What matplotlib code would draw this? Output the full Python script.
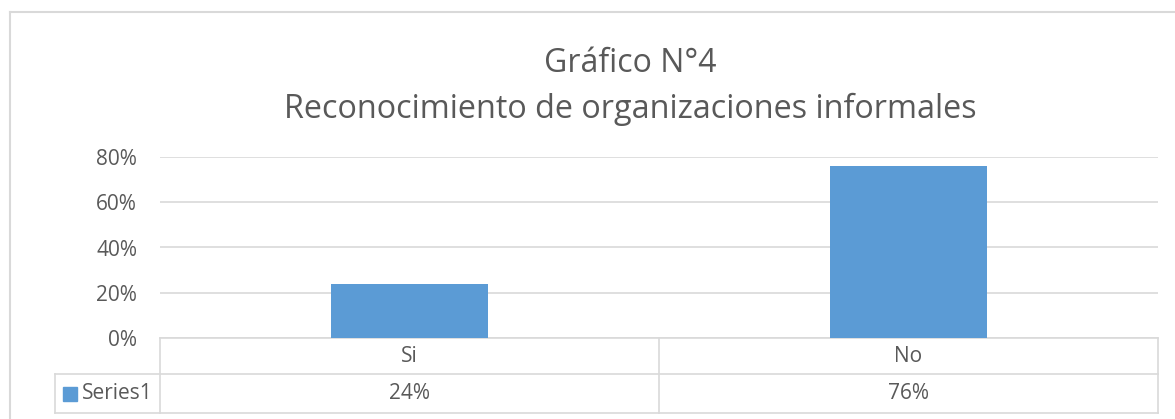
import matplotlib
matplotlib.use("Agg")
import matplotlib.pyplot as plt
from matplotlib.lines import Line2D

categories = ["Si", "No"]
values = [0.24, 0.76]
value_labels = ["24%", "76%"]
yticks = [0.0, 0.2, 0.4, 0.6, 0.8]
ytick_labels = ["0%", "20%", "40%", "60%", "80%"]
series_name = "Series1"
title_lines = ["Gráfico N°4", "Reconocimiento de organizaciones informales"]

plt.rcParams['font.family'] = ['Open Sans', 'DejaVu Sans']
TXT = '#595959'
GRID = '#d9d9d9'
BAR = '#5b9bd5'

W, H = 1175, 419
fig = plt.figure(figsize=(W/100, H/100), dpi=100)
fig.patch.set_facecolor('white')

def fx(px): return px / W
def fy(py): return 1 - py / H

FS = 15
ax = fig.add_axes([fx(160), fy(338), fx(1158) - fx(160), fy(157) - fy(338)])
x = list(range(len(categories)))
ax.bar(x, values, width=0.313, color=BAR, zorder=3)
ax.set_xlim(-0.5, len(categories) - 0.5)
ax.set_ylim(0, 0.8)
ax.set_yticks(yticks)
ax.set_yticklabels(ytick_labels, color=TXT, fontsize=FS)
ax.tick_params(axis='y', length=0, pad=16.5)
ax.set_xticks([])
for s in ['top', 'right', 'left']:
    ax.spines[s].set_visible(False)
ax.spines['bottom'].set_color(GRID)
ax.spines['bottom'].set_linewidth(1.2)
ax.yaxis.grid(True, color=GRID, linewidth=1.2, zorder=0)
ax.set_axisbelow(True)

# data table below axes (axes coordinates)
axh = 181.0
axw = 998.0
r1 = -(374 - 338) / axh
r2 = -(413 - 338) / axh
legx = (55 - 160) / axw
lk = dict(color=GRID, linewidth=1.2, transform=ax.transAxes, clip_on=False)
ax.add_line(Line2D([legx, 1.0], [r1, r1], **lk))
ax.add_line(Line2D([legx, 1.0], [r2, r2], **lk))
ax.add_line(Line2D([legx, legx], [r1, r2], **lk))
ax.add_line(Line2D([0, 0], [0, r2], **lk))
ax.add_line(Line2D([1.0, 1.0], [0, r2], **lk))
for i in range(1, len(categories)):
    xb = i / len(categories)
    ax.add_line(Line2D([xb, xb], [0, r2], **lk))
for i, (c, v) in enumerate(zip(categories, value_labels)):
    xc = (i + 0.5) / len(categories)
    ax.text(xc, r1 / 2, c, transform=ax.transAxes, ha='center', va='center',
            color=TXT, fontsize=FS)
    ax.text(xc, (r1 + r2) / 2, v, transform=ax.transAxes, ha='center', va='center',
            color=TXT, fontsize=FS)
# legend key
ax.add_patch(plt.Rectangle((legx + 8 / axw, (r1 + r2) / 2 - 7 / axh), 14 / axw, 14 / axh,
                           transform=ax.transAxes, clip_on=False, color=BAR))
ax.text(legx + 27 / axw, (r1 + r2) / 2, series_name, transform=ax.transAxes,
        ha='left', va='center', color=TXT, fontsize=FS)

# outer chart frame
fig.add_artist(Line2D([fx(10), fx(10)], [fy(12), 0], color=GRID, linewidth=1.5))
fig.add_artist(Line2D([fx(10), 1], [fy(12), fy(12)], color=GRID, linewidth=1.5))

# title
fig.text(fx(630), fy(72), title_lines[0], ha='center', va='baseline', color=TXT, fontsize=23)
fig.text(fx(630), fy(118), title_lines[1], ha='center', va='baseline', color=TXT, fontsize=23.3)

fig.savefig("out.png", dpi=100, facecolor='white')
